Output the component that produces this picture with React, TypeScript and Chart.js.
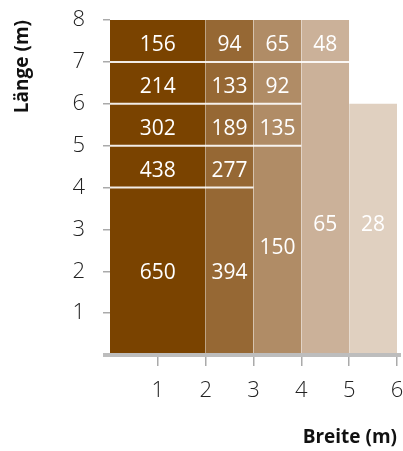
import { useEffect, useRef } from 'react';
import { Chart, registerables } from 'chart.js';

Chart.register(...registerables);

// ---- data ----
const breiteTicks = [1, 2, 3, 4, 5, 6];
const laengeTicks = [1, 2, 3, 4, 5, 6, 7, 8];
const columnFrom = [0, 2, 3, 4, 5];
const columnTo = [2, 3, 4, 5, 6];
const columnHeight = [8, 8, 8, 8, 6];
const dividerLevel = [7, 6, 5, 4];
const dividerTo = [5, 4, 4, 3];
const cellValues = [156, 94, 65, 48, 214, 133, 92, 302, 189, 135, 438, 277, 650, 394, 150, 65, 28];
const cellX = [1, 2.5, 3.5, 4.5, 1, 2.5, 3.5, 1, 2.5, 3.5, 1, 2.5, 1, 2.5, 3.5, 4.5, 5.5];
const cellY = [7.4, 7.4, 7.4, 7.4, 6.4, 6.4, 6.4, 5.4, 5.4, 5.4, 4.4, 4.4, 1.95, 1.95, 2.55, 3.1, 3.1];

// ---- styles ----
const COLUMN_COLORS = ['#7A4300', '#966834', '#B08C66', '#CBB199', '#E0D0C0'];
const FONT = '"Open Sans", sans-serif';
const TICK_GRAY = '#aaaaaa';

const baselinePlugin = {
  id: 'baseline',
  afterDatasetsDraw(chart: any) {
    const { ctx, chartArea, scales } = chart;
    const y = scales.y.getPixelForValue(0);
    ctx.save();
    ctx.strokeStyle = '#bdbdbd';
    ctx.lineWidth = 4;
    ctx.beginPath();
    ctx.moveTo(chartArea.left - 7, y);
    ctx.lineTo(chartArea.right + 4, y);
    ctx.stroke();
    ctx.restore();
  },
};

const cellLabelPlugin = {
  id: 'cellLabels',
  afterDatasetsDraw(chart: any) {
    const { ctx } = chart;
    const idx = chart.data.datasets.findIndex((d: any) => d.isLabels);
    if (idx < 0) return;
    const meta = chart.getDatasetMeta(idx);
    ctx.save();
    ctx.fillStyle = '#ffffff';
    ctx.font = `400 21px ${FONT}`;
    ctx.textAlign = 'center';
    ctx.textBaseline = 'middle';
    meta.data.forEach((el: any, i: number) => {
      ctx.fillText(String(cellValues[i]), el.x, el.y);
    });
    ctx.restore();
  },
};

export default function App() {
  const ref = useRef<HTMLCanvasElement>(null);

  useEffect(() => {
    document.body.style.margin = '0';
    const columns = columnFrom.map((from, i) => ({
      type: 'line' as const,
      data: [
        { x: from, y: columnHeight[i] },
        { x: columnTo[i], y: columnHeight[i] },
      ],
      fill: 'origin',
      backgroundColor: COLUMN_COLORS[i],
      borderWidth: 0,
      pointRadius: 0,
      order: 3,
    }));
    const dividers = dividerLevel.map((lvl, i) => ({
      type: 'line' as const,
      data: [
        { x: 0, y: lvl },
        { x: dividerTo[i], y: lvl },
      ],
      fill: false,
      borderColor: 'rgba(255,255,255,0.9)',
      borderWidth: 2,
      pointRadius: 0,
      order: 2,
    }));
    const labels = {
      type: 'scatter' as const,
      isLabels: true,
      data: cellX.map((x, i) => ({ x, y: cellY[i] })),
      pointRadius: 0,
      order: 1,
    };

    const chart = new Chart(ref.current!, {
      type: 'line',
      data: { datasets: [...columns, ...dividers, labels] as any },
      options: {
        animation: false,
        responsive: false,
        events: [],
        layout: { padding: { top: 20, right: 6, left: 0, bottom: 0 } },
        plugins: { legend: { display: false }, tooltip: { enabled: false } },
        scales: {
          x: {
            type: 'linear',
            min: 0,
            max: 6,
            afterBuildTicks: (s: any) => {
              s.ticks = breiteTicks.map((v) => ({ value: v }));
            },
            afterFit: (s: any) => {
              s.height = 96;
              s.paddingLeft = 0;
              s.paddingRight = 0;
            },
            border: { display: false },
            grid: { drawOnChartArea: false, color: TICK_GRAY, lineWidth: 1.5, tickLength: 11 },
            ticks: { color: '#222', font: { family: FONT, size: 22, weight: '300' }, padding: 12, maxRotation: 0 },
            title: {
              display: true,
              text: 'Breite (m)',
              align: 'end',
              color: '#111',
              font: { family: FONT, size: 19, weight: 'bold' },
              padding: { top: 0, bottom: 2 },
            },
          },
          y: {
            type: 'linear',
            min: 0,
            max: 8,
            afterBuildTicks: (s: any) => {
              s.ticks = laengeTicks.map((v) => ({ value: v }));
            },
            afterFit: (s: any) => {
              s.width = 110;
              s.paddingTop = 0;
              s.paddingBottom = 0;
            },
            border: { display: false },
            grid: { drawOnChartArea: false, color: TICK_GRAY, lineWidth: 1.5, tickLength: 7 },
            ticks: { color: '#222', font: { family: FONT, size: 22, weight: '300' }, padding: 18 },
            title: {
              display: true,
              text: 'Länge (m)',
              align: 'end',
              color: '#111',
              font: { family: FONT, size: 19, weight: 'bold' },
              padding: { top: 11, bottom: 0 },
            },
          },
        },
      },
      plugins: [baselinePlugin, cellLabelPlugin],
    });
    return () => chart.destroy();
  }, []);

  return (
    <div style={{ width: 403, height: 451 }}>
      <canvas ref={ref} width={403} height={451} />
    </div>
  );
}
